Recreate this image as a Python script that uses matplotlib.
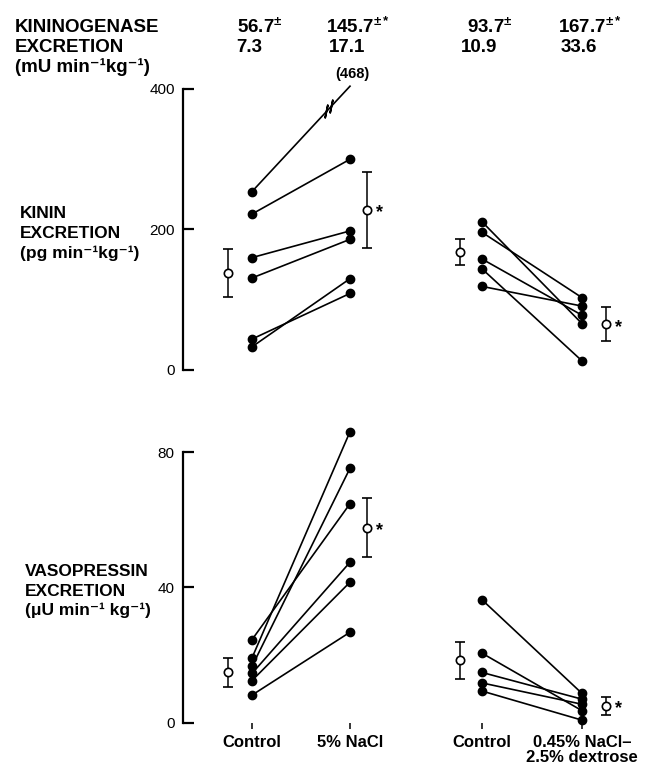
import numpy as np
import matplotlib.pyplot as plt
import matplotlib.transforms as mtransforms

plt.rcParams['font.family'] = ['Liberation Sans', 'DejaVu Sans']
plt.rcParams['mathtext.fontset'] = 'custom'
plt.rcParams['mathtext.rm'] = 'Liberation Sans:bold'
plt.rcParams['mathtext.bf'] = 'Liberation Sans:bold'

# kininogenase excretion (mean, SE, significant)
kg_mean = ["56.7", "145.7", "93.7", "167.7"]
kg_se = ["7.3", "17.1", "10.9", "33.6"]
kg_sig = [False, True, False, True]

# kinin excretion, pg/min/kg
kinin_ctrl_a = [254, 222, 160, 131, 44, 33]
kinin_nacl = [468, 300, 198, 186, 109, 130]
kinin_ctrl_b = [211, 196, 158, 144, 119]
kinin_dex = [66, 103, 78, 13, 91]
kinin_mean = [138, 228, 168, 65]
kinin_sem = [34, 54, 19, 24]

# vasopressin excretion, uU/min/kg
vaso_ctrl_a = [24.5, 19.1, 16.6, 14.5, 12.4, 8.1]
vaso_nacl = [64.7, 86, 75.2, 47.4, 41.5, 26.7]
vaso_ctrl_b = [36.3, 20.5, 14.8, 11.7, 9.3]
vaso_dex = [8.6, 3.5, 6.9, 5.4, 0.7]
vaso_mean = [14.8, 57.6, 18.4, 4.9]
vaso_sem = [4.4, 8.7, 5.5, 2.7]
vaso_sig = [False, True, False, True]

xlabels = ["Control", "5% NaCl", "Control", "0.45% NaCl\u2013\n2.5% dextrose"]

# positions of the four columns and of the mean symbols
xpos = [0, 1, 2.347, 3.367]
mean_off = [-0.24, 0.17, -0.22, 0.24]
W, H = 654, 771

fig = plt.figure(figsize=(6.54, 7.71), dpi=100)
ax1 = fig.add_axes([183 / W, (H - 370) / H, (645 - 183) / W, 281 / H])
ax2 = fig.add_axes([183 / W, (H - 722.5) / H, (645 - 183) / W, 270.5 / H])

def paired(ax, x0, x1, a, b, cap=None):
    for u, v in zip(a, b):
        vv = v if cap is None else min(v, cap)
        ax.plot([x0, x1], [u, vv], color='black', lw=1.2, clip_on=False, zorder=2)
        ax.plot([x0], [u], 'o', color='black', ms=6, clip_on=False, zorder=3)
        if cap is None or v <= cap:
            ax.plot([x1], [v], 'o', color='black', ms=6, clip_on=False, zorder=3)

def means(ax, m, s, sig, star_dy):
    for i in range(4):
        xm = xpos[i] + mean_off[i]
        ax.errorbar(xm, m[i], yerr=s[i], fmt='o', mfc='white', mec='black',
                    ms=6, color='black', elinewidth=1.1, capsize=3.5,
                    capthick=1.1, mew=1.2, clip_on=False, zorder=3)
        if sig[i]:
            ax.text(xm + 0.13, m[i] + star_dy, '*', fontsize=13, fontweight='bold',
                    ha='center', va='center')

# top panel
top_cap = 404
paired(ax1, xpos[0], xpos[1], kinin_ctrl_a, kinin_nacl, cap=top_cap)
paired(ax1, xpos[2], xpos[3], kinin_ctrl_b, kinin_dex)
means(ax1, kinin_mean, kinin_sem, kg_sig, -4)
# off-scale value: break marks and label
big = int(np.argmax(kinin_nacl))
for f in (0.76, 0.81):
    bx = xpos[0] + f * (xpos[1] - xpos[0])
    by = kinin_ctrl_a[big] + f * (top_cap - kinin_ctrl_a[big])
    ax1.plot([bx], [by], marker=(2, 2, -12), color='black', ms=10, mew=1.3,
             clip_on=False)
ax1.text(xpos[1] + 0.02, 421, "(%d)" % kinin_nacl[big], fontsize=10.5,
         fontweight='bold', ha='center', va='center')

ax1.set_ylim(0, 400)
ax1.set_yticks([0, 200, 400])
ax1.set_xticks([])

# bottom panel
paired(ax2, xpos[0], xpos[1], vaso_ctrl_a, vaso_nacl)
paired(ax2, xpos[2], xpos[3], vaso_ctrl_b, vaso_dex)
means(ax2, vaso_mean, vaso_sem, vaso_sig, -0.8)
ax2.set_ylim(0, 80)
ax2.set_yticks([0, 40, 80])
ax2.set_xticks(xpos)
ax2.set_xticklabels(xlabels, fontsize=12, fontweight='bold', linespacing=1.0)
ax2.tick_params(axis='x', direction='out', length=4, width=1.1, pad=5)

for ax in (ax1, ax2):
    ax.set_xlim(-0.704, 4.01)
    for s in ('top', 'right', 'bottom'):
        ax.spines[s].set_visible(False)
    ax.spines['left'].set_linewidth(1.6)
    ax.tick_params(axis='y', direction='in', length=8, width=1.6, pad=6,
                   labelsize=11)
    ax.patch.set_visible(False)

# header: kininogenase
tr = mtransforms.blended_transform_factory(ax1.transData, fig.transFigure)
fig.text(15 / W, 1 - 27 / H, "KININOGENASE", fontsize=13.5, fontweight='bold', va='center')
fig.text(15 / W, 1 - 47 / H, "EXCRETION", fontsize=13.5, fontweight='bold', va='center')
fig.text(15 / W, 1 - 67 / H, "(mU min\u207b\u00b9kg\u207b\u00b9)", fontsize=13.5,
         fontweight='bold', va='center')
for i in range(4):
    sup = r"$^{\pm*}$" if kg_sig[i] else r"$^{\pm}$"
    fig.text(xpos[i] + 0.08, 1 - 27 / H, kg_mean[i] + sup, transform=tr,
             fontsize=13.5, fontweight='bold', ha='center', va='center')
    fig.text(xpos[i] - 0.03, 1 - 47 / H, kg_se[i], transform=tr,
             fontsize=13.5, fontweight='bold', ha='center', va='center')

# y labels
fig.text(20 / W, 1 - 213 / H, "KININ", fontsize=12.5, fontweight='bold', va='center')
fig.text(20 / W, 1 - 233 / H, "EXCRETION", fontsize=12.5, fontweight='bold', va='center')
fig.text(20 / W, 1 - 253 / H, "(pg min\u207b\u00b9kg\u207b\u00b9)", fontsize=12.5,
         fontweight='bold', va='center')
fig.text(25 / W, 1 - 572 / H, "VASOPRESSIN", fontsize=12.5, fontweight='bold', va='center')
fig.text(25 / W, 1 - 591 / H, "EXCRETION", fontsize=12.5, fontweight='bold', va='center')
fig.text(25 / W, 1 - 610 / H, "(\u03bcU min\u207b\u00b9 kg\u207b\u00b9)", fontsize=12.5,
         fontweight='bold', va='center')

fig.savefig("out.png", dpi=100)
